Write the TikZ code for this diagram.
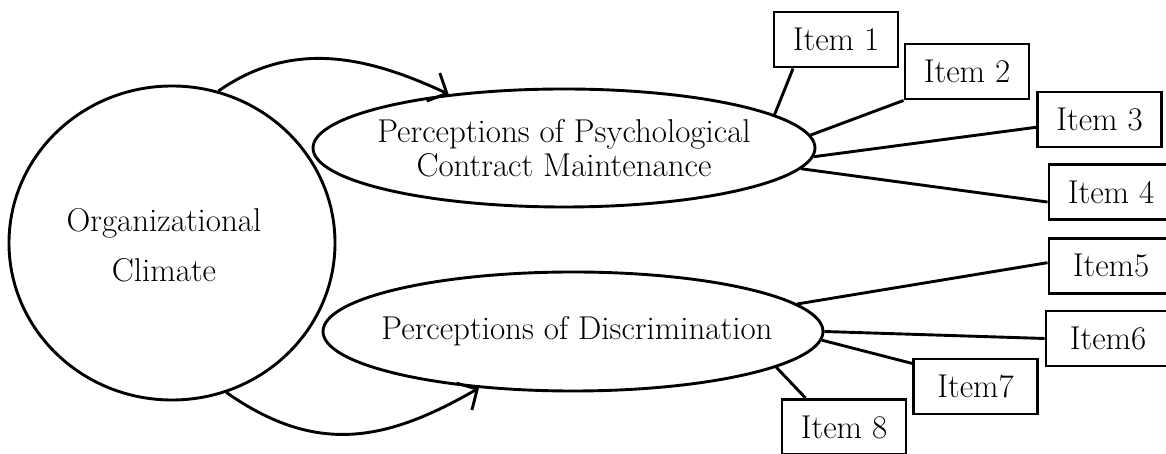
\documentclass[tikz,border=0pt]{standalone}
\usetikzlibrary{arrows.meta,shapes.geometric}
\begin{document}
\begin{tikzpicture}[x=1pt,y=1pt,
  lw/.style={line width=2.9pt},
  txt/.style={font=\fontsize{33}{34}\selectfont},
  latent/.style={lw,draw,ellipse,inner sep=0pt},
  itembox/.style={lw,txt,draw,rectangle,minimum width=124pt,minimum height=55pt,inner sep=0pt},
  link/.style={lw},
  path/.style={lw,-{Straight Barb[length=15pt,width=31pt,line join=miter]}}]
\useasboundingbox (0,0) rectangle (1166,454);
\clip (0,0) rectangle (1166,454);

% latent variables (text set as centred labels so the outlines keep their size)
\node[latent,minimum width=326pt,minimum height=314pt,
  label={[txt,align=center,xshift=-8pt,yshift=-2pt]center:Organizational\\[16pt]Climate}] (oc) at (172,211) {};
\node[latent,minimum width=502pt,minimum height=118pt,
  label={[txt,align=center]center:Perceptions of Psychological\\Contract Maintenance}] (e1) at (564,306) {};
\node[latent,minimum width=500pt,minimum height=119pt,
  label={[txt,align=center,xshift=4pt]center:Perceptions of Discrimination}] (e2) at (573,122.5) {};

% indicator items
\node[itembox] (i1) at (836,414.5) {Item 1};
\node[itembox] (i2) at (967,382.5) {Item 2};
\node[itembox] (i3) at (1099.5,334.5) {Item 3};
\node[itembox] (i4) at (1111,262) {Item 4};
\node[itembox] (i5) at (1111,188) {Item5};
\node[itembox] (i6) at (1108,115.5) {Item6};
\node[itembox] (i7) at (975.5,67.5) {Item7};
\node[itembox] (i8) at (844,27) {Item 8};

% structural paths
\draw[path] (oc.73) to[out=35,in=155,looseness=1] (e1.155);
\draw[path] (oc.-70) to[out=-35,in=-150,looseness=1.1] (e2.-149);

% loadings
\draw[link] (e1.9) -- (i1.214);
\draw[link] (e1.3.5) -- (i2.south west);
\draw[link] (e1.-2.7) -- (i3.187);
\draw[link] (e1.-5.4) -- (i4.189);
\draw[link] (e2.7) -- (i5.177);
\draw[link] (e2.0) -- (i6.west);
\draw[link] (e2.-2.8) -- (i7.160);
\draw[link] (e2.-10.6) -- (i8.143);
\end{tikzpicture}
\end{document}
